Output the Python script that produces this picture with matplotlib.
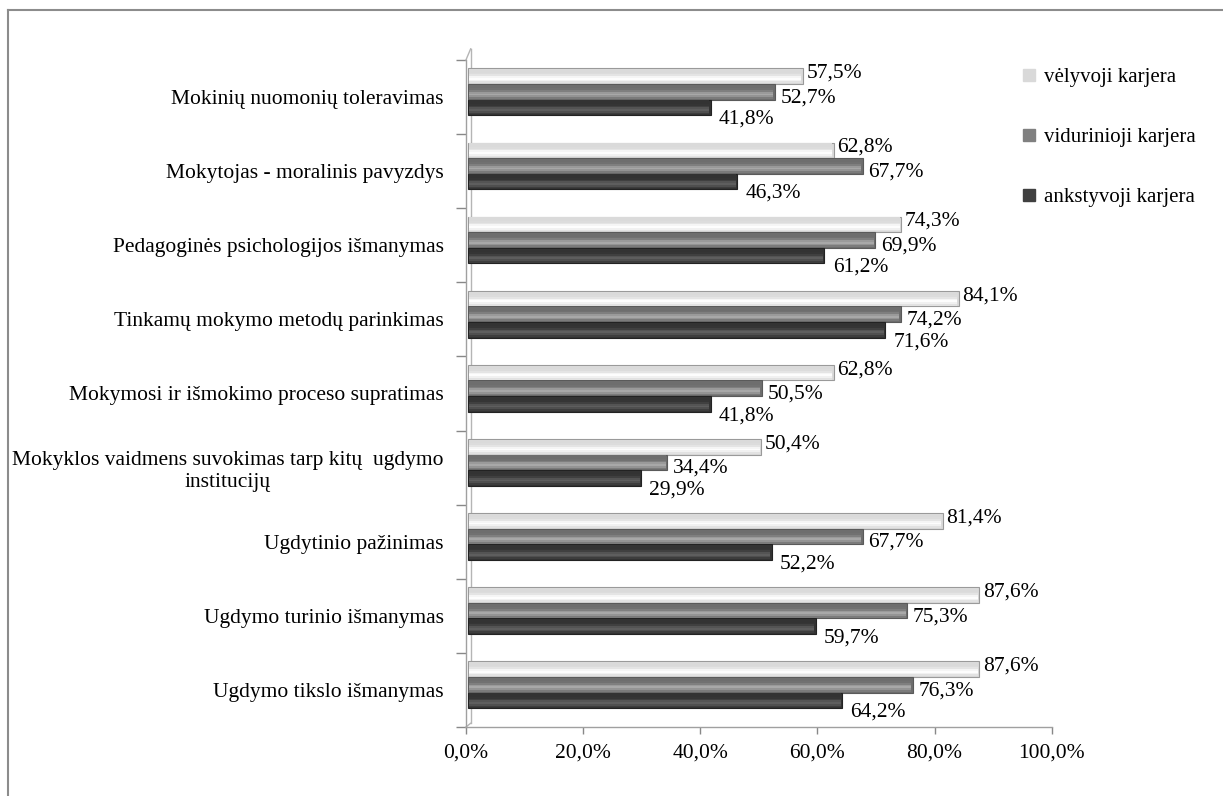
import matplotlib
matplotlib.use("Agg")
import matplotlib.pyplot as plt
import numpy as np
from matplotlib.lines import Line2D

plt.rcParams['font.family'] = ['Liberation Serif', 'DejaVu Serif']

categories = [
    "Ugdymo tikslo išmanymas",
    "Ugdymo turinio išmanymas",
    "Ugdytinio pažinimas",
    "Mokyklos vaidmens suvokimas tarp kitų  ugdymo\ninstitucijų",
    "Mokymosi ir išmokimo proceso supratimas",
    "Tinkamų mokymo metodų parinkimas",
    "Pedagoginės psichologijos išmanymas",
    "Mokytojas - moralinis pavyzdys",
    "Mokinių nuomonių toleravimas",
]
velyvoji = [87.6, 87.6, 81.4, 50.4, 62.8, 84.1, 74.3, 62.8, 57.5]
vidurinioji = [76.3, 75.3, 67.7, 34.4, 50.5, 74.2, 69.9, 67.7, 52.7]
ankstyvoji = [64.2, 59.7, 52.2, 29.9, 41.8, 71.6, 61.2, 46.3, 41.8]
series_names = ["vėlyvoji karjera", "vidurinioji karjera", "ankstyvoji karjera"]
xticks = [0, 20, 40, 60, 80, 100]

fig = plt.figure(figsize=(12.23, 7.96), dpi=100)
ax = fig.add_axes([0.381, 0.0867, 0.479, 0.838])

y = np.arange(len(categories))
offsets = [0.28, 0.07, -0.14]
h = 0.21
bases = ["#dadada", "#6e6e6e", "#333333"]
lights = ["#fdfdfd", "#a8a8a8", "#5e5e5e"]
edges = ["#9a9a9a", "#5a5a5a", "#222222"]
legend_cols = ["#d9d9d9", "#808080", "#404040"]
data = [velyvoji, vidurinioji, ankstyvoji]

x0 = 0.3
nstrip = 8
for vals, off, base, light, edge in zip(data, offsets, bases, lights, edges):
    yy = y + off
    vals = np.array(vals)
    ax.barh(yy, vals - x0, height=h, left=x0, color=base, edgecolor=edge, linewidth=0.8, zorder=2)
    c0 = np.array(matplotlib.colors.to_rgb(light))
    c1 = np.array(matplotlib.colors.to_rgb(base))
    for k in range(nstrip):
        t = k / (nstrip - 1)
        w = np.exp(-((t - 0.3) ** 2) / 0.06)
        col = c1 * (1 - w) + c0 * w
        sh = h * 0.9 / nstrip
        ycen = yy - h * 0.45 + sh * (k + 0.5)
        ax.barh(ycen, vals - x0 - 0.4, height=sh, left=x0 + 0.15, color=col,
                linewidth=0, zorder=3)

lab_dy = [0.04, -0.08, -0.16]
lab_dx = [0.6, 1.0, 1.4]
for vals, off, dy, dx in zip(data, offsets, lab_dy, lab_dx):
    for yi, v in zip(y, vals):
        ax.text(v + dx, yi + off + dy, f"{v:.1f}%".replace('.', ','),
                ha='left', va='center', fontsize=15.5, color='black', zorder=5)

ax.set_xlim(0, 100)
ax.set_ylim(-0.5, len(categories) - 0.5)
ax.set_xticks(xticks)
ax.set_xticklabels([f"{t:.1f}%".replace('.', ',') for t in xticks], fontsize=15.5)
ax.set_yticks(y)
ax.set_yticklabels(categories, fontsize=15.5, multialignment='center')
ax.set_yticks(np.arange(-0.5, len(categories), 1.0), minor=True)
ax.tick_params(axis='y', which='major', length=0, pad=16)
ax.tick_params(axis='y', which='minor', length=7, color='#888888', width=1)
ax.tick_params(axis='x', which='major', length=5, color='#888888', width=1, pad=7)

for s in ['top', 'right']:
    ax.spines[s].set_visible(False)
ax.spines['left'].set_color('#a0a0a0')
ax.spines['bottom'].set_color('#a0a0a0')
ax.spines['left'].set_linewidth(1)
ax.spines['bottom'].set_linewidth(1)
ax.plot([0.8, 0.8], [-0.45, len(categories) - 0.35], color='#b5b5b5', lw=1, zorder=1, clip_on=False)
ax.plot([0, 0.8], [len(categories) - 0.5, len(categories) - 0.35], color='#b5b5b5', lw=1, clip_on=False)
ax.plot([0, 0.8], [-0.5, -0.45], color='#b5b5b5', lw=1, clip_on=False)

handles = [Line2D([0], [0], marker='s', linestyle='none', markersize=8,
                  markerfacecolor=c, markeredgecolor=c) for c in legend_cols]
fig.legend(handles, series_names, loc='upper left', bbox_to_anchor=(0.828, 0.926),
           frameon=False, fontsize=15, labelspacing=1.95, handletextpad=0.3,
           handlelength=0.8, borderaxespad=0)

fig.add_artist(Line2D([8 / 1223, 8 / 1223], [0, 1 - 10 / 796], transform=fig.transFigure,
                      color='#8c8c8c', lw=1.5))
fig.add_artist(Line2D([8 / 1223, 1], [1 - 10 / 796, 1 - 10 / 796], transform=fig.transFigure,
                      color='#8c8c8c', lw=1.5))

fig.savefig("out.png", dpi=100)
